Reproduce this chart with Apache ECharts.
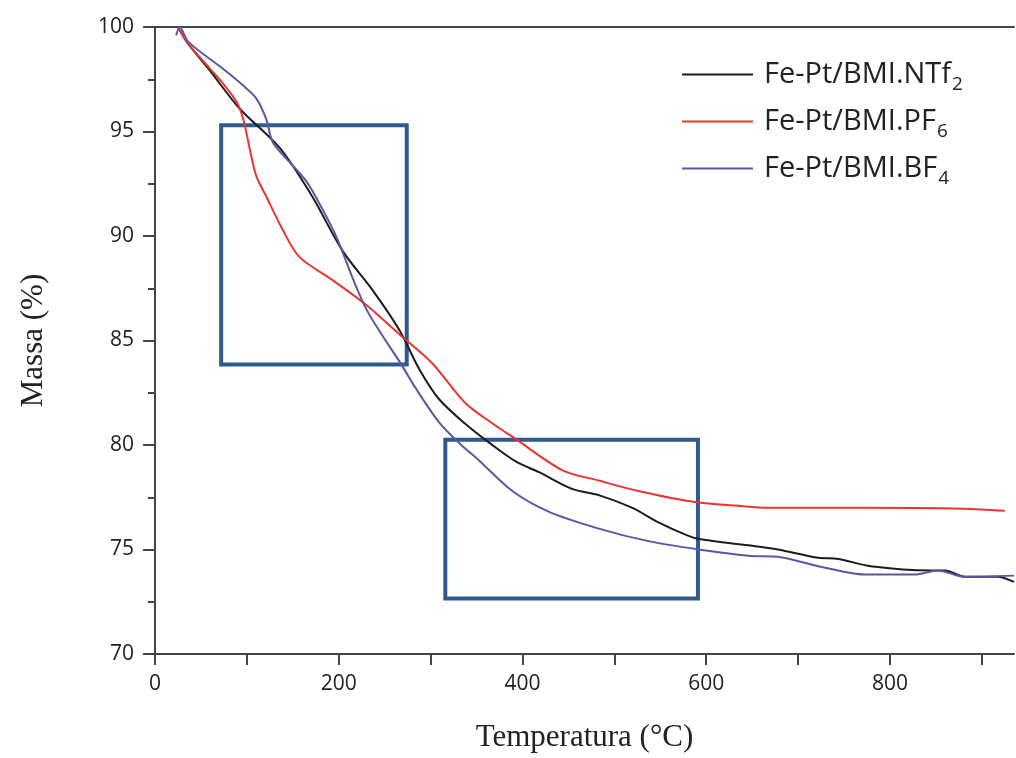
<!DOCTYPE html>
<html><head><meta charset="utf-8">
<script src="https://cdn.jsdelivr.net/npm/echarts@6/dist/echarts.min.js"></script>
<style>html,body{margin:0;padding:0;background:#fff}#c{width:1016px;height:758px}</style>
</head><body><div id="c"></div>
<script>
const seriesNames = ['Fe-Pt/BMI.NTf2', 'Fe-Pt/BMI.PF6', 'Fe-Pt/BMI.BF4'];
const legendBase = ['Fe-Pt/BMI.NTf', 'Fe-Pt/BMI.PF', 'Fe-Pt/BMI.BF'];
const legendSub = ['2', '6', '4'];
const colors = ['#1c1c1c', '#e8352d', '#5b56a6'];
const ntf2 = [[25,100],[36,99.2],[60,97.9],[92,96.1],[136,94.2],[171,91.9],[204,89.3],[237,87.4],[266,85.5],[288,83.6],[309,82.2],[338,81.0],[364,80.1],[393,79.2],[418,78.7],[454,77.9],[483,77.6],[519,77.0],[548,76.3],[578,75.7],[592,75.5],[646,75.2],[678,75.0],[722,74.6],[744,74.55],[779,74.2],[845,74.0],[860,74.0],[881,73.7],[917,73.7],[935,73.45]];
const pf6 = [[25,100],[36,99.2],[60,98.0],[74,97.3],[89,96.4],[96,95.6],[103,94.2],[110,92.9],[121,91.9],[139,90.3],[157,89.0],[193,87.9],[230,86.7],[266,85.3],[302,83.9],[338,82.0],[375,80.8],[389,80.4],[443,78.8],[483,78.3],[526,77.8],[584,77.3],[646,77.05],[664,77.0],[773,77.0],[881,76.95],[925,76.85]];
const bf4 = [[23,99.6],[27,100],[36,99.3],[74,98.0],[96,97.2],[110,96.6],[121,95.6],[128,94.5],[143,93.7],[165,92.6],[182,91.3],[198,89.9],[215,88.0],[230,86.5],[248,85.2],[266,84.0],[284,82.7],[309,81.1],[331,80.1],[353,79.25],[389,77.8],[429,76.8],[483,76.0],[537,75.4],[592,75.0],[646,74.7],[678,74.65],[722,74.2],[773,73.8],[827,73.8],[852,74.0],[881,73.7],[935,73.75]];
const seriesData = [ntf2, pf6, bf4];
// highlighted regions [xMin, yMax, xMax, yMin]
const boxes = [[72, 95.3, 274, 83.85], [316, 80.25, 591, 72.65]];

const chart = echarts.init(document.getElementById('c'));
const series = seriesNames.map((n, i) => ({
  name: n, type: 'line', data: seriesData[i], smooth: 0.3, showSymbol: false,
  lineStyle: { color: colors[i], width: 2 }, itemStyle: { color: colors[i] },
  z: 3
}));
series[0].markArea = {
  silent: true,
  itemStyle: { color: 'rgba(0,0,0,0)', borderColor: '#2f5a8e', borderWidth: 4 },
  data: boxes.map(b => [{ coord: [b[0], b[1]] }, { coord: [b[2], b[3]] }])
};
chart.setOption({
  animation: false,
  grid: { left: 155, top: 27, right: 2, bottom: 97, containLabel: false },
  legend: {
    orient: 'vertical', left: 677, top: 55, itemWidth: 71, itemHeight: 14, itemGap: 13,
    icon: 'path://M0,6 L71,6 L71,8 L0,8 Z',
    data: seriesNames,
    formatter: name => { const i = seriesNames.indexOf(name); return '{a|' + legendBase[i] + '}{s|' + legendSub[i] + '}'; },
    textStyle: {
      rich: {
        a: { fontFamily: 'Open Sans', fontSize: 29, color: '#222', padding: [0, 0, 0, 6] },
        s: { fontFamily: 'Open Sans', fontSize: 19, color: '#222', padding: [20, 0, 0, 1] }
      }
    }
  },
  xAxis: [{
    type: 'value', min: 0, max: 935, interval: 100,
    name: 'Temperatura (°C)', nameLocation: 'middle', nameGap: 68,
    nameTextStyle: { fontFamily: 'Liberation Serif', fontSize: 31, color: '#222' },
    axisLine: { onZero: false, lineStyle: { color: '#444', width: 2 } },
    axisTick: { show: true, inside: false, length: 11, lineStyle: { color: '#444', width: 2 } },
    axisLabel: { margin: 20, fontFamily: 'Open Sans', fontSize: 21, color: '#222', showMaxLabel: false,
      formatter: v => (v % 200 === 0 ? String(v) : '') },
    splitLine: { show: false }
  }, {
    type: 'value', position: 'top', min: 0, max: 935,
    axisLine: { show: true, lineStyle: { color: '#444', width: 2 } },
    axisTick: { show: false }, axisLabel: { show: false }, splitLine: { show: false }
  }],
  yAxis: {
    type: 'value', min: 70, max: 100, interval: 5,
    name: 'Massa (%)', nameLocation: 'middle', nameGap: 106, nameRotate: 90,
    nameTextStyle: { fontFamily: 'Liberation Serif', fontSize: 31, color: '#222' },
    axisLine: { show: true, lineStyle: { color: '#444', width: 2 } },
    axisTick: { show: true, length: 12, lineStyle: { color: '#444', width: 2 } },
    minorTick: { show: true, splitNumber: 2, length: 7, lineStyle: { color: '#444', width: 2 } },
    axisLabel: { margin: 21, fontFamily: 'Open Sans', fontSize: 21, color: '#222' },
    splitLine: { show: false }
  },
  series: series
});
</script></body></html>
